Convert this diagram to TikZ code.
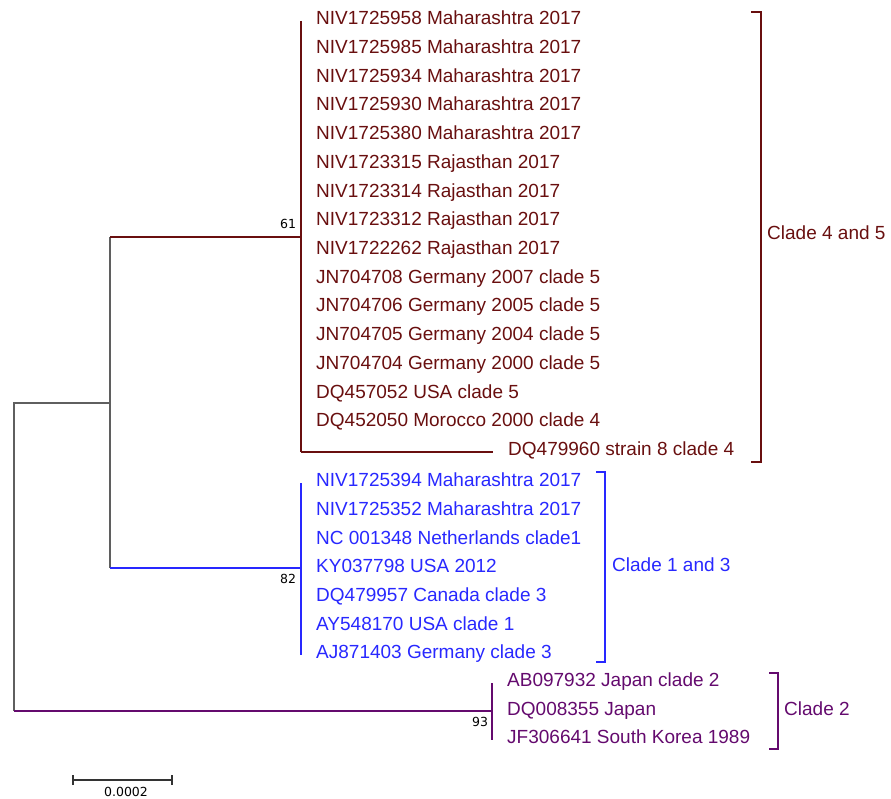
\documentclass[tikz,border=0pt]{standalone}
\usepackage{fontspec}
\setmainfont{Liberation Sans}
\newfontfamily\supfont{DejaVu Sans}
\definecolor{cladeA}{RGB}{105,15,15}
\definecolor{cladeB}{RGB}{40,40,255}
\definecolor{cladeC}{RGB}{100,10,110}
\definecolor{rootgray}{RGB}{95,95,95}
\begin{document}
\begin{tikzpicture}[x=1pt,y=-1pt,
  leaf/.style={anchor=base west, inner sep=0pt, font=\fontsize{19}{20}\selectfont},
  cladelabel/.style={anchor=base west, inner sep=0pt, font=\fontsize{19}{20}\selectfont},
  support/.style={inner sep=0pt, font=\supfont\fontsize{12.5}{13}\selectfont},
  branch/.style={line width=2.3pt},
  graybranch/.style={line width=1.4pt, draw=rootgray},
  bracket/.style={line width=1.4pt}]
\useasboundingbox (0,0) rectangle (891,799);
% internal node coordinates
\coordinate (rt) at (14,403);
\coordinate (rb) at (14,711);
\coordinate (n1t) at (110,237);
\coordinate (n1m) at (110,403);
\coordinate (n1b) at (110,568);
\coordinate (n45) at (301,237);
\coordinate (n45top) at (301,21);
\coordinate (n45bot) at (301,452);
\coordinate (tipA) at (493,452);
\coordinate (n13) at (301,568);
\coordinate (n13top) at (301,483);
\coordinate (n13bot) at (301,655);
\coordinate (n2) at (492,711);
\coordinate (n2top) at (492,683);
\coordinate (n2bot) at (492,740);
% gray branches
\draw[graybranch] (n1m) -- (rt) -- (rb);
\draw[graybranch] (n1t) -- (n1b);
% clade 4 and 5
\draw[branch, cladeA] (n1t) -- (n45);
\draw[branch, cladeA] (n45top) -- (n45bot);
\draw[branch, cladeA] (n45bot) -- (tipA);
% clade 1 and 3
\draw[branch, cladeB] (n1b) -- (n13);
\draw[branch, cladeB] (n13top) -- (n13bot);
% clade 2
\draw[branch, cladeC] (rb) -- (n2);
\draw[branch, cladeC] (n2top) -- (n2bot);
% leaves clade 4 and 5
\foreach \t [count=\i from 0] in {NIV1725958 Maharashtra 2017,NIV1725985 Maharashtra 2017,NIV1725934 Maharashtra 2017,NIV1725930 Maharashtra 2017,NIV1725380 Maharashtra 2017,NIV1723315 Rajasthan 2017,NIV1723314 Rajasthan 2017,NIV1723312 Rajasthan 2017,NIV1722262 Rajasthan 2017,JN704708 Germany 2007 clade 5,JN704706 Germany 2005 clade 5,JN704705 Germany 2004 clade 5,JN704704 Germany 2000 clade 5,DQ457052 USA clade 5,DQ452050 Morocco 2000 clade 4}
  \node[leaf, text=cladeA] (a\i) at (316,{21+28.73*\i+3.7}) {\t};
\node[leaf, text=cladeA] (a15) at (508,{452+3.7}) {DQ479960 strain 8 clade 4};
% leaves clade 1 and 3
\foreach \t [count=\i from 0] in {NIV1725394 Maharashtra 2017,NIV1725352 Maharashtra 2017,NC 001348 Netherlands clade1,KY037798 USA 2012,DQ479957 Canada clade 3,AY548170 USA clade 1,AJ871403 Germany clade 3}
  \node[leaf, text=cladeB] (b\i) at (316,{483+28.67*\i+3.7}) {\t};
% leaves clade 2
\foreach \t [count=\i from 0] in {AB097932 Japan clade 2,DQ008355 Japan,JF306641 South Korea 1989}
  \node[leaf, text=cladeC] (c\i) at (507,{683+28.5*\i+3.7}) {\t};
% support values
\node[support] (s61) at (288,224) {61};
\node[support] (s82) at (288,579) {82};
\node[support] (s93) at (480,722) {93};
% brackets
\coordinate (bA1) at (751,12);
\coordinate (bA2) at (761,12);
\coordinate (bA3) at (761,462);
\coordinate (bA4) at (751,462);
\draw[bracket, cladeA] (bA1) -- (bA2) -- (bA3) -- (bA4);
\node[cladelabel, text=cladeA] (labA) at (767,240) {Clade 4 and 5};
\coordinate (bB1) at (596,472);
\coordinate (bB2) at (605,472);
\coordinate (bB3) at (605,662);
\coordinate (bB4) at (596,662);
\draw[bracket, cladeB] (bB1) -- (bB2) -- (bB3) -- (bB4);
\node[cladelabel, text=cladeB] (labB) at (612,571) {Clade 1 and 3};
\coordinate (bC1) at (769,673);
\coordinate (bC2) at (778,673);
\coordinate (bC3) at (778,749);
\coordinate (bC4) at (769,749);
\draw[bracket, cladeC] (bC1) -- (bC2) -- (bC3) -- (bC4);
\node[cladelabel, text=cladeC] (labC) at (784,715) {Clade 2};
% scale bar
\coordinate (sb1) at (73,780);
\coordinate (sb2) at (172,780);
\draw[line width=1.2pt, black!80] (sb1) -- (sb2);
\draw[line width=1.2pt, black!80] ([yshift=-5pt]sb1) -- ([yshift=5pt]sb1);
\draw[line width=1.2pt, black!80] ([yshift=-5pt]sb2) -- ([yshift=5pt]sb2);
\node[support] (sbl) at (126,792) {0.0002};
\end{tikzpicture}
\end{document}
